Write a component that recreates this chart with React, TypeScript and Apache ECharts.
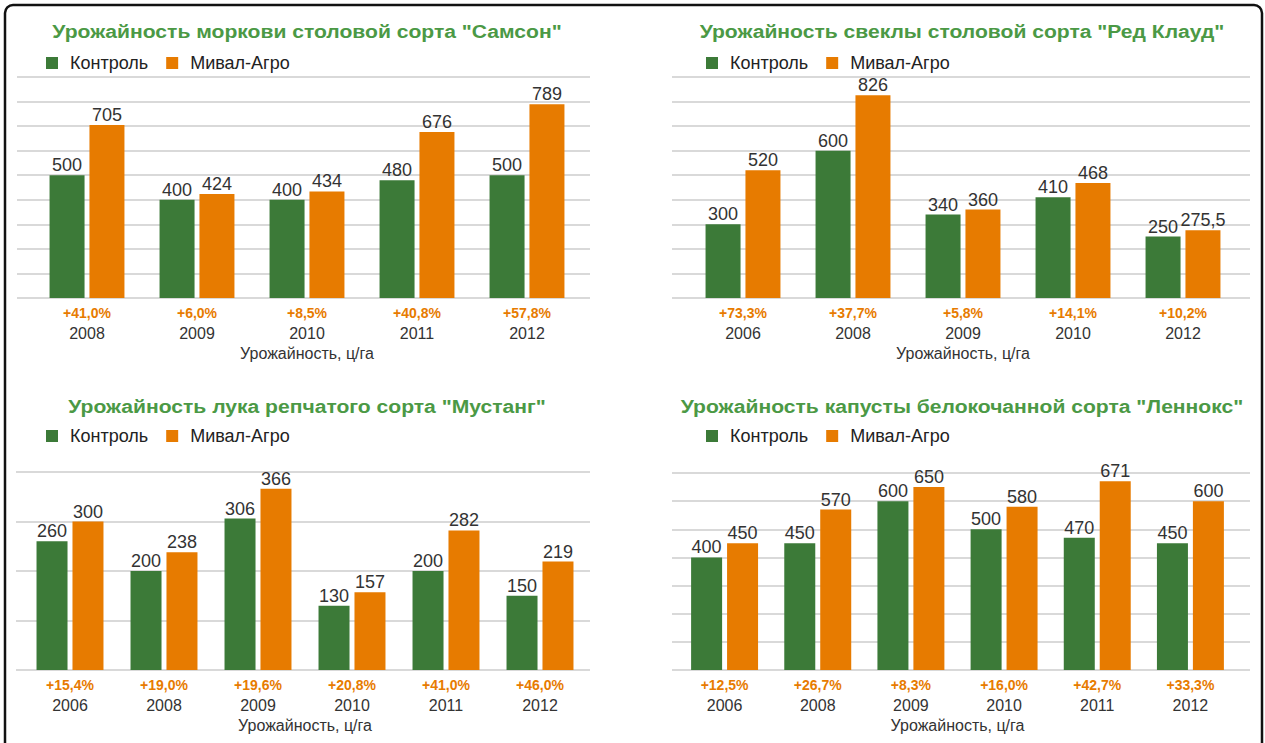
import React, { useEffect, useRef } from "react";
import * as echarts from "echarts";

const seriesNames = ["Контроль", "Мивал-Агро"];
const axisName = "Урожайность, ц/га";

// Chart 1 — carrots
const title1 = 'Урожайность моркови столовой сорта "Самсон"';
const years1 = ["2008", "2009", "2010", "2011", "2012"];
const control1 = [500, 400, 400, 480, 500];
const mival1 = [705, 424, 434, 676, 789];
const pct1 = ["+41,0%", "+6,0%", "+8,5%", "+40,8%", "+57,8%"];

// Chart 2 — beet
const title2 = 'Урожайность свеклы столовой сорта "Ред Клауд"';
const years2 = ["2006", "2008", "2009", "2010", "2012"];
const control2 = [300, 600, 340, 410, 250];
const mival2 = [520, 826, 360, 468, 275.5];
const pct2 = ["+73,3%", "+37,7%", "+5,8%", "+14,1%", "+10,2%"];

// Chart 3 — onion
const title3 = 'Урожайность лука репчатого сорта "Мустанг"';
const years3 = ["2006", "2008", "2009", "2010", "2011", "2012"];
const control3 = [260, 200, 306, 130, 200, 150];
const mival3 = [300, 238, 366, 157, 282, 219];
const pct3 = ["+15,4%", "+19,0%", "+19,6%", "+20,8%", "+41,0%", "+46,0%"];

// Chart 4 — cabbage
const title4 = 'Урожайность капусты белокочанной сорта "Леннокс"';
const years4 = ["2006", "2008", "2009", "2010", "2011", "2012"];
const control4 = [400, 450, 600, 500, 470, 450];
const mival4 = [450, 570, 650, 580, 671, 600];
const pct4 = ["+12,5%", "+26,7%", "+8,3%", "+16,0%", "+42,7%", "+33,3%"];

const yMax = [900, 900, 400, 700];

const GREEN = "#3c7a38";
const ORANGE = "#e77b00";
const TITLE_GREEN = "#4b9945";
const FONT = '"Liberation Sans", Arial, Helvetica, sans-serif';

const charts = [
  { title: title1, years: years1, control: control1, mival: mival1, pct: pct1 },
  { title: title2, years: years2, control: control2, mival: mival2, pct: pct2 },
  { title: title3, years: years3, control: control3, mival: mival3, pct: pct3 },
  { title: title4, years: years4, control: control4, mival: mival4, pct: pct4 },
];

// layout (pixels)
const layout = [
  { bgL: 17, bgW: 573, barL: 32, barW: 550, top: 77, h: 221, barWidth: 35, gap: "14%", titleX: 307, titleY: 31, legL: 46, legT: 54 },
  { bgL: 672, bgW: 578, barL: 688, barW: 550, top: 77, h: 221, barWidth: 35, gap: "14%", titleX: 962, titleY: 31, legL: 706, legT: 54 },
  { bgL: 16, bgW: 574, barL: 23, barW: 564, top: 472, h: 198, barWidth: 31, gap: "16%", titleX: 307, titleY: 406, legL: 46, legT: 427 },
  { bgL: 672, bgW: 578, barL: 678, barW: 559, top: 473, h: 197, barWidth: 31, gap: "16%", titleX: 962, titleY: 406, legL: 706, legT: 427 },
];

function buildOption() {
  const grid: any[] = [];
  const xAxis: any[] = [];
  const yAxis: any[] = [];
  const series: any[] = [];
  const legend: any[] = [];
  const graphic: any[] = [
    {
      type: "rect",
      shape: { x: 5, y: 5, width: 1257, height: 770, r: 8 },
      style: { fill: "none", stroke: "#111", lineWidth: 2.5 },
      silent: true,
    },
  ];

  charts.forEach((c, i) => {
    const L = layout[i];
    const bg = 2 * i;
    const br = 2 * i + 1;
    grid.push({ left: L.bgL, width: L.bgW, top: L.top, height: L.h });
    grid.push({ left: L.barL, width: L.barW, top: L.top, height: L.h });

    xAxis.push({ type: "value", gridIndex: bg, show: false, min: 0, max: 1 });
    xAxis.push({
      type: "category",
      gridIndex: br,
      data: c.years,
      axisLine: { show: false },
      axisTick: { show: false },
      axisLabel: {
        margin: 4,
        interval: 0,
        formatter: (v: string, idx: number) => `{p|${c.pct[idx]}}\n{y|${v}}`,
        rich: {
          p: { color: ORANGE, fontWeight: "bold", fontSize: 14, lineHeight: 21, fontFamily: FONT },
          y: { color: "#333", fontSize: 16, lineHeight: 21, fontFamily: FONT },
        },
      },
      name: axisName,
      nameLocation: "middle",
      nameGap: 47,
      nameTextStyle: { color: "#333", fontSize: 16, fontFamily: FONT },
    });

    yAxis.push({
      type: "value",
      gridIndex: bg,
      min: 0,
      max: yMax[i],
      interval: 100,
      axisLine: { show: false },
      axisTick: { show: false },
      axisLabel: { show: false },
      splitLine: { show: true, lineStyle: { color: "#cdcdcd", width: 1.5 } },
    });
    yAxis.push({ type: "value", gridIndex: br, min: 0, max: yMax[i], show: false, splitLine: { show: false } });

    const lbl = {
      show: true,
      position: "top",
      distance: 2,
      color: "#333",
      fontSize: 18,
      lineHeight: 16,
      fontFamily: FONT,
      formatter: (p: any) => String(p.value).replace(".", ","),
    };
    series.push({
      type: "bar",
      name: seriesNames[0],
      xAxisIndex: br,
      yAxisIndex: br,
      data: c.control,
      barWidth: L.barWidth,
      barGap: L.gap,
      itemStyle: { color: GREEN },
      label: lbl,
    });
    series.push({
      type: "bar",
      name: seriesNames[1],
      xAxisIndex: br,
      yAxisIndex: br,
      data: c.mival,
      barWidth: L.barWidth,
      barGap: L.gap,
      itemStyle: { color: ORANGE },
      label: lbl,
    });

    legend.push({
      data: seriesNames,
      left: L.legL,
      top: L.legT,
      icon: "rect",
      itemWidth: 12,
      itemHeight: 12,
      itemGap: 18,
      padding: 0,
      selectedMode: false,
      textStyle: { color: "#222", fontSize: 18, lineHeight: 16, fontFamily: FONT, padding: [0, 0, 0, 7] },
    });

    graphic.push({
      type: "text",
      x: L.titleX,
      y: L.titleY,
      scaleX: 1.11,
      silent: true,
      style: {
        text: c.title,
        fill: TITLE_GREEN,
        font: `bold 19px ${FONT}`,
        align: "center",
        verticalAlign: "middle",
        textAlign: "center",
        textVerticalAlign: "middle",
      },
    });
  });

  return {
    animation: false,
    backgroundColor: "#ffffff",
    grid,
    xAxis,
    yAxis,
    series,
    legend,
    graphic,
  };
}

export default function App() {
  const ref = useRef<HTMLDivElement>(null);
  useEffect(() => {
    document.body.style.margin = "0";
    if (!ref.current) return;
    const chart = echarts.init(ref.current, undefined, { renderer: "svg" });
    chart.setOption(buildOption() as any);
    return () => chart.dispose();
  }, []);
  return <div ref={ref} style={{ width: 1265, height: 743, background: "#fff" }} />;
}
